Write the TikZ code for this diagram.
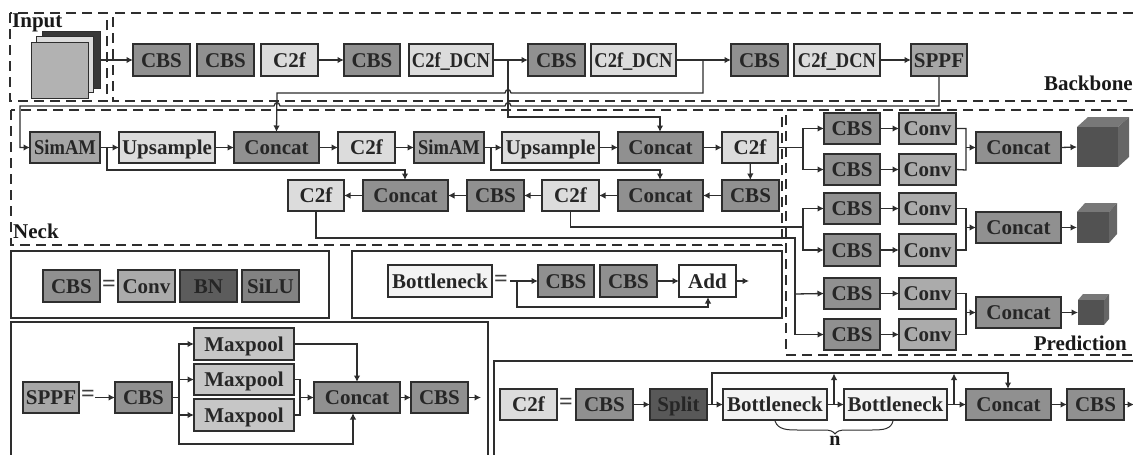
\documentclass[tikz,border=0pt]{standalone}
\usepackage{graphicx}
\usepackage{fontspec}
\setmainfont{Liberation Serif}
\usetikzlibrary{arrows.meta,calc}
\definecolor{cbsc}{HTML}{909090}
\definecolor{lightc}{HTML}{DCDCDC}
\definecolor{simc}{HTML}{A6A6A6}
\definecolor{convc}{HTML}{ABABAB}
\definecolor{silc}{HTML}{828282}
\definecolor{bnc}{HTML}{5C5C5C}
\definecolor{splitc}{HTML}{585858}
\definecolor{maxc}{HTML}{C6C6C6}
\definecolor{botc}{HTML}{F3F3F3}
\definecolor{linec}{HTML}{2E2E2E}
\definecolor{cufront}{HTML}{525252}
\definecolor{cutop}{HTML}{787878}
\definecolor{cuside}{HTML}{666666}
\newcommand\narrowtxt[2]{\scalebox{#1}[1]{#2}}
\tikzset{
  base/.style={draw=linec,line width=1.2pt,inner sep=0pt,outer sep=0pt,text height=14pt,text depth=0pt,align=center,text=black!85,font=\bfseries\fontsize{21}{21}\selectfont},
  cbs/.style={base,fill=cbsc},
  lite/.style={base,fill=lightc},
  dcn/.style={base,fill=lightc},
  sim/.style={base,fill=simc},
  conv/.style={base,fill=convc},
  silu/.style={base,fill=silc},
  bn/.style={base,fill=bnc},
  splitbox/.style={base,fill=splitc},
  maxp/.style={base,fill=maxc},
  bot/.style={base,fill=botc},
  addbox/.style={base,fill=white},
  ar/.style={draw=linec,line width=1.3pt,-{Latex[length=6.5pt,width=6.5pt]}},
  ln/.style={draw=linec,line width=1.3pt},
  dbox/.style={draw=linec,line width=1.2pt,dash pattern=on 10pt off 6pt},
  sbox/.style={draw=linec,line width=1.3pt},
  lab/.style={inner sep=0pt,text=black!90,font=\bfseries\fontsize{21}{21}\selectfont},
  eqs/.style={inner sep=0pt,text=black!75,font=\bfseries\fontsize{24}{24}\selectfont}
}
\newcommand\bx[7]{%
  \pgfmathsetmacro\bxw{#4-#3}\pgfmathsetmacro\bxh{#6-#5}%
  \pgfmathsetmacro\bxx{(#3+#4)/2}\pgfmathsetmacro\bxy{(#5+#6)/2}%
  \node[#1,minimum width=\bxw pt,minimum height=\bxh pt] (#2) at (\bxx,\bxy) {#7};}
\newcommand\cubebox[7]{% name, front x1,x2,y1,y2, dx, dy
  \fill[cutop] (#2,#4) -- ($(#2,#4)+(#6,#7)$) -- ($(#3,#4)+(#6,#7)$) -- (#3,#4) -- cycle;
  \fill[cuside] (#3,#4) -- ($(#3,#4)+(#6,#7)$) -- ($(#3,#5)+(#6,#7)$) -- (#3,#5) -- cycle;
  \pgfmathsetmacro\bxw{#3-#2}\pgfmathsetmacro\bxh{#5-#4}%
  \node[fill=cufront,draw=none,inner sep=0pt,outer sep=0pt,minimum width=\bxw pt,minimum height=\bxh pt,anchor=north west] (#1) at (#2,#4) {};}
\begin{document}
\begin{tikzpicture}[x=1pt,y=-1pt]
\useasboundingbox (0,0) rectangle (1133,455);
\fill[white] (0,0) rectangle (1133,455);
% dashed regions
\draw[dbox] (10,13) rectangle (107,101);
\draw[dbox] (1133,13) -- (113,13) -- (113,101) -- (1133,101);
\draw[dbox] (11,110) rectangle (782,245);
\draw[dbox] (1133,110) -- (786,110) -- (786,355) -- (1133,355);
% solid regions
\draw[sbox] (11,251) rectangle (329,318);
\draw[sbox] (352,251) rectangle (782,318);
\draw[sbox] (11,460) -- (11,322) -- (488,322) -- (488,460);
\draw[sbox] (494,460) -- (494,361) -- (1140,361);
% input stack
\node[fill=black!78,draw=linec,inner sep=0pt,line width=1pt,minimum width=58pt,minimum height=57pt,anchor=north west] (inC) at (42,31) {};
\node[fill=lightc,draw=linec,inner sep=0pt,line width=1pt,minimum width=57pt,minimum height=56pt,anchor=north west] (inB) at (36,36) {};
\node[fill=black!30,draw=linec,inner sep=0pt,line width=1.2pt,minimum width=57pt,minimum height=56pt,anchor=north west] (inA) at (31,42) {};
% backbone
\bx{cbs}{bA}{133}{190}{44}{76}{CBS}
\bx{cbs}{bB}{197}{254}{44}{76}{CBS}
\bx{lite}{bC}{261}{318}{44}{76}{C2f}
\bx{cbs}{bD}{344}{400}{44}{76}{CBS}
\bx{dcn}{bE}{409}{493}{44}{76}{\narrowtxt{.88}{C2f\_DCN}}
\bx{cbs}{bF}{528}{585}{44}{76}{CBS}
\bx{dcn}{bG}{591}{676}{44}{76}{\narrowtxt{.88}{C2f\_DCN}}
\bx{cbs}{bH}{731}{788}{44}{76}{CBS}
\bx{dcn}{bI}{794}{880}{44}{76}{\narrowtxt{.88}{C2f\_DCN}}
\bx{sim}{bJ}{911}{967}{44}{76}{SPPF}
% neck row 1
\bx{sim}{nA}{30}{100}{132}{163}{\narrowtxt{.88}{SimAM}}
\bx{lite}{nB}{119}{215}{132}{163}{Upsample}
\bx{cbs}{nC}{234}{319}{132}{163}{Concat}
\bx{lite}{nD}{338}{395}{132}{163}{C2f}
\bx{sim}{nE}{414}{484}{132}{163}{\narrowtxt{.88}{SimAM}}
\bx{lite}{nF}{502}{599}{132}{163}{Upsample}
\bx{cbs}{nG}{618}{703}{132}{163}{Concat}
\bx{lite}{nH}{722}{778}{132}{163}{C2f}
% neck row 2
\bx{lite}{mA}{288}{344}{180}{211}{C2f}
\bx{cbs}{mB}{363}{448}{180}{211}{Concat}
\bx{cbs}{mC}{467}{524}{180}{211}{CBS}
\bx{lite}{mD}{542}{599}{180}{211}{C2f}
\bx{cbs}{mE}{618}{703}{180}{211}{Concat}
\bx{cbs}{mF}{722}{779}{180}{211}{CBS}
% prediction
\bx{cbs}{pA}{824}{880}{113}{144}{CBS}
\bx{conv}{qA}{899}{956}{113}{144}{Conv}
\bx{cbs}{pB}{824}{880}{154}{185}{CBS}
\bx{conv}{qB}{899}{956}{154}{185}{Conv}
\bx{cbs}{pC}{824}{880}{193}{224}{CBS}
\bx{conv}{qC}{899}{956}{193}{224}{Conv}
\bx{cbs}{pD}{824}{880}{234}{266}{CBS}
\bx{conv}{qD}{899}{956}{234}{266}{Conv}
\bx{cbs}{pE}{824}{880}{278}{309}{CBS}
\bx{conv}{qE}{899}{956}{278}{309}{Conv}
\bx{cbs}{pF}{824}{880}{319}{350}{CBS}
\bx{conv}{qF}{899}{956}{319}{350}{Conv}
\bx{cbs}{rA}{976}{1061}{132}{163}{Concat}
\bx{cbs}{rB}{976}{1061}{212}{243}{Concat}
\bx{cbs}{rC}{976}{1061}{297}{328}{Concat}
\cubebox{cuA}{1077}{1118}{127}{167}{11}{-10}
\cubebox{cuB}{1077}{1109}{212}{243}{8}{-9}
\cubebox{cuC}{1078}{1104}{300}{325}{5}{-6}
% legends
\bx{cbs}{lA}{43}{100}{270}{302}{CBS}
\bx{conv}{lB}{118}{175}{270}{302}{Conv}
\bx{bn}{lC}{180}{237}{270}{302}{BN}
\bx{silu}{lD}{242}{299}{270}{302}{SiLU}
\node[eqs] (eqA) at (109,286) {=};
\bx{bot}{kA}{388}{492}{265}{297}{Bottleneck}
\node[eqs] (eqB) at (501,281) {=};
\bx{cbs}{kB}{538}{594}{265}{297}{CBS}
\bx{cbs}{kC}{600}{657}{265}{297}{CBS}
\bx{addbox}{kD}{679}{736}{265}{297}{Add}
\coordinate (kS) at (510,281);
\coordinate (kE) at (749,281);
\bx{sim}{sA}{23}{79}{382}{413}{SPPF}
\node[eqs] (eqC) at (88,396) {=};
\coordinate (sS) at (95,397.5);
\bx{cbs}{sB}{115}{172}{382}{413}{CBS}
\bx{maxp}{sC}{194}{294}{328}{360}{Maxpool}
\bx{maxp}{sD}{194}{294}{364}{395}{Maxpool}
\bx{maxp}{sE}{194}{294}{399}{431}{Maxpool}
\bx{cbs}{sF}{314}{400}{382}{413}{Concat}
\bx{cbs}{sG}{411}{468}{382}{413}{CBS}
\coordinate (sT) at (481,397.5);
\bx{lite}{cA}{500}{557}{389}{420}{C2f}
\node[eqs] (eqD) at (566,404) {=};
\bx{cbs}{cB}{576}{633}{389}{420}{CBS}
\bx{splitbox}{cC}{650}{707}{389}{420}{Split}
\bx{bot}{cD}{723}{827}{389}{420}{Bottleneck}
\bx{bot}{cE}{844}{947}{389}{420}{Bottleneck}
\bx{cbs}{cF}{966}{1051}{389}{420}{Concat}
\bx{cbs}{cG}{1067}{1124}{389}{420}{CBS}
\coordinate (cT) at (1134,404.5);
% labels
\node[lab,anchor=north west] (tInput) at (12,14) {Input};
\node[lab,anchor=north east] (tBack) at (1133,76) {Backbone};
\node[lab,anchor=south west] (tNeck) at (13,239) {Neck};
\node[lab,anchor=south east] (tPred) at (1127,351) {Prediction};
\node[lab,font=\bfseries\fontsize{20}{20}\selectfont] (tN) at (835,441) {n};
% junctions
\coordinate (jA) at (508,60);
\coordinate (jB) at (703,60);
\coordinate (jD) at (107,147.5);
\coordinate (jE) at (491,147.5);
\coordinate (jF) at (803,147.5);
\coordinate (jG) at (803,227);
\coordinate (jH) at (795,294);
\coordinate (jK) at (517,281);
\coordinate (jS) at (179,397.5);
\coordinate (jP) at (300,397.5);
\coordinate (jC) at (712,404.5);
\coordinate (jCa) at (834,404.5);
\coordinate (jCb) at (954,404.5);
\coordinate (xG) at (660,117);
\coordinate (xE) at (660,170);
\coordinate (xB) at (405,170);
\coordinate (xK) at (708,307);
\coordinate (xSa) at (353,444);
\coordinate (xSb) at (357,344);
\coordinate (xC) at (1008,373);
% backbone connectors
\draw[ar] (inC.east |- bA) -- (bA.west);
\draw[ar] (bC) -- (bD);
\draw[ar] (bE) -- (bF);
\draw[ar] (bG) -- (bH);
\draw[ar] (bI) -- (bJ);
% long connectors with hops
\draw[ar] (jA) -- (508,117) -- (xG) -- (nG.north -| xG);
\draw[ar] (jB) -- (703,93) -- (511,93) .. controls (510,88.5) and (506,88.5) .. (505,93) -- (277,93) -- (nC.north);
\draw[ar] (bJ.south) -- (939,106) -- (511,106) .. controls (510,101.5) and (506,101.5) .. (505,106) -- (280,106) .. controls (279,101.5) and (275,101.5) .. (274,106) -- (20,106) -- (20,147.5) -- (nA.west);
% neck row 1
\draw[ar] (nA) -- (nB);
\draw[ar] (nB) -- (nC);
\draw[ar] (nC) -- (nD);
\draw[ar] (nD) -- (nE);
\draw[ar] (nE) -- (nF);
\draw[ar] (nF) -- (nG);
\draw[ar] (nG) -- (nH);
\draw[ar] (jD) -- (jD |- xB) -- (xB) -- (mB.north -| xB);
\draw[ar] (jE) -- (jE |- xE) -- (xE) -- (mE.north -| xE);
\draw[ar] (nH) -- (mF);
\draw[ar] (mF) -- (mE);
\draw[ar] (mE) -- (mD);
\draw[ar] (mD) -- (mC);
\draw[ar] (mC) -- (mB);
\draw[ar] (mB) -- (mA);
% to prediction
\draw[ln] (nH.east) -- (jF);
\draw[ar] (jF) |- (pA.west);
\draw[ar] (jF) |- (pB.west);
\draw[ln] (mD.south) |- (jG);
\draw[ar] (jG) |- (pC.west);
\draw[ar] (jG) |- (pD.west);
\draw[ln] (mA.south) -- (316,238) -- (795,238) -- (jH);
\draw[ar] (jH) -- (pE.west);
\draw[ar] (jH) |- (pF.west);
\foreach \a/\b in {pA/qA,pB/qB,pC/qC,pD/qD,pE/qE,pF/qF}{\draw[ar] (\a) -- (\b);}
\draw[ln] (qA.east) -| (966,170) -- (qB.east);
\draw[ar] (966,147.5) -- (rA.west);
\draw[ln] (qC.east) -| (966,250) -- (qD.east);
\draw[ar] (966,227.5) -- (rB.west);
\draw[ln] (qE.east) -| (966,334.5) -- (qF.east);
\draw[ar] (966,312.5) -- (rC.west);
\draw[ar] (rA.east) -- (cuA.west);
\draw[ar] (rB.east) -- (cuB.west);
\draw[ar] (rC.east) -- (cuC.west);
% bottleneck legend
\draw[ar] (kS) -- (kB.west);
\draw[ar] (kC) -- (kD);
\draw[ar] (kD) -- (kE);
\draw[ar] (jK) -- (jK |- xK) -- (xK) -- (kD.south -| xK);
% SPPF legend
\draw[ar] (sS) -- (sB.west);
\draw[ln] (sB.east) -- (jS);
\draw[ar] (jS) |- (sC.west);
\draw[ar] (jS |- sD) -- (sD.west);
\draw[ar] (jS) |- (sE.west);
\draw[ar] (jS) -- (jS |- xSa) -- (xSa) -- (sF.south -| xSa);
\draw[ar] (sC.east) -- (xSb) -- (sF.north -| xSb);
\draw[ln] (sD.east) -- (sD.east -| jP) -- (sE.east -| jP) -- (sE.east);
\draw[ar] (jP) -- (sF.west);
\draw[ar] (sF) -- (sG);
\draw[ar] (sG) -- (sT);
% C2f legend
\draw[ar] (cB) -- (cC);
\draw[ar] (cC) -- (cD);
\draw[ar] (cD) -- (cE);
\draw[ar] (cE) -- (cF);
\draw[ar] (cF) -- (cG);
\draw[ar] (cG) -- (cT);
\draw[ar] (jC) -- (jC |- xC) -- (xC) -- (cF.north -| xC);
\draw[ar] (jCa) -- (834,373.5);
\draw[ar] (jCb) -- (954,373.5);
\draw[line width=1pt,draw=linec] (775,421) .. controls (778,430) and (788,430) .. (798,430) -- (824,430) .. controls (830,430) and (833,431) .. (835,434) .. controls (837,431) and (840,430) .. (846,430) -- (872,430) .. controls (884,430) and (891,429) .. (893,421);
\end{tikzpicture}
\end{document}
